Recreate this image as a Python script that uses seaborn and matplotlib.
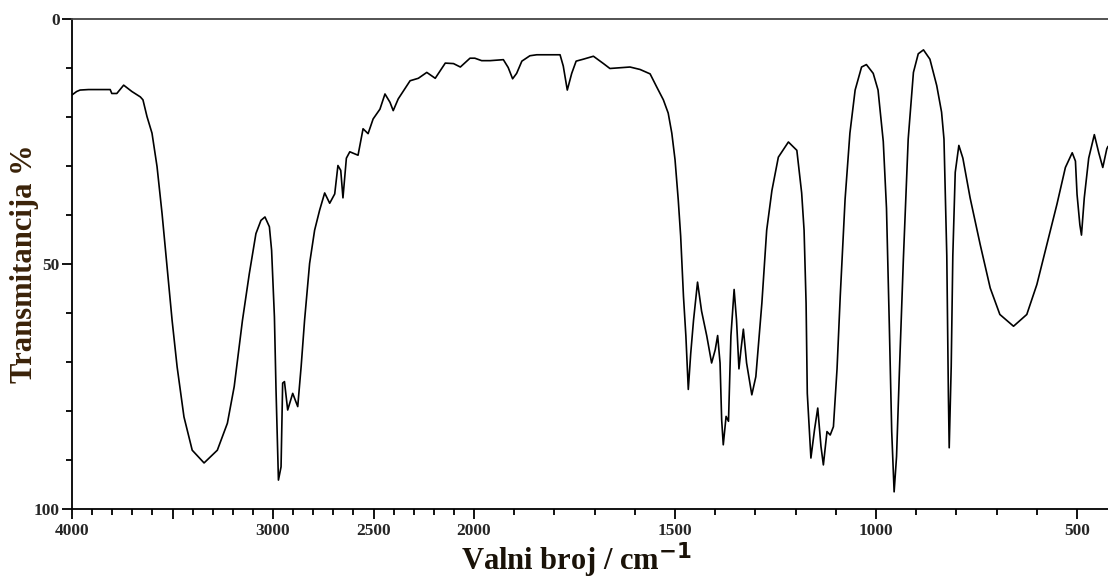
import numpy as np
import pandas as pd
import matplotlib
matplotlib.use("Agg")
import matplotlib.pyplot as plt
from matplotlib.ticker import FixedLocator, MultipleLocator
import seaborn as sns

# IR spectrum: wavenumber (cm^-1) and transmittance (%)
wavenumber = [4000, 3977, 3960, 3918, 3810, 3802, 3777, 3743, 3702, 3660, 3647, 3627,
              3602, 3577, 3552, 3527, 3502, 3477, 3443, 3402, 3343, 3277, 3227, 3193,
              3152, 3118, 3085, 3060, 3040, 3018, 3007, 2993, 2985, 2973, 2960, 2952,
              2943, 2927, 2902, 2877, 2860, 2843, 2818, 2793, 2768, 2743, 2718, 2693,
              2677, 2663, 2652, 2635, 2618, 2577, 2552, 2527, 2502, 2468, 2443, 2418,
              2402, 2377, 2318, 2277, 2235, 2193, 2143, 2102, 2068, 2020, 1998, 1981,
              1960, 1927, 1915, 1904, 1894, 1881, 1861, 1844, 1786, 1778, 1768, 1757,
              1746, 1728, 1703, 1678, 1662, 1612, 1587, 1562, 1546, 1529, 1517, 1508,
              1500, 1492, 1486, 1479, 1473, 1467, 1461, 1454, 1444, 1434, 1421, 1409,
              1400, 1394, 1388, 1384, 1380, 1373, 1367, 1361, 1353, 1347, 1341, 1336,
              1330, 1322, 1309, 1299, 1284, 1272, 1259, 1243, 1218, 1197, 1185, 1179,
              1174, 1171, 1162, 1153, 1145, 1137, 1131, 1122, 1114, 1106, 1097, 1089,
              1077, 1065, 1052, 1036, 1024, 1007, 995, 982, 974, 967, 961, 955,
              949, 942, 932, 920, 907, 895, 882, 866, 849, 837, 831, 824,
              820, 818, 813, 809, 803, 794, 784, 766, 741, 716, 692, 658,
              625, 600, 575, 550, 529, 512, 504, 500, 493, 489, 482, 471,
              457, 446, 436, 426, 423]
transmittance = [15.5, 14.8, 14.5, 14.4, 14.4, 15.2, 15.2, 13.5, 14.8, 15.9, 16.5, 19.9,
                 23.3, 30.1, 39.7, 50.6, 61.5, 71.0, 81.2, 88.0, 90.6, 88.0, 82.5, 75.0,
                 61.5, 52.0, 43.8, 41.1, 40.4, 42.4, 47.2, 60.8, 75.7, 94.1, 91.4, 74.3,
                 74.0, 79.8, 76.4, 79.1, 70.9, 61.5, 49.9, 43.1, 39.0, 35.5, 37.6, 35.7,
                 29.9, 30.9, 36.5, 28.4, 27.1, 27.8, 22.4, 23.4, 20.4, 18.4, 15.3, 17.0,
                 18.7, 16.3, 12.6, 12.1, 10.9, 12.1, 9.0, 9.1, 9.8, 8.0, 8.0, 8.5,
                 8.5, 8.3, 9.9, 12.2, 11.1, 8.6, 7.5, 7.3, 7.3, 9.6, 14.5, 11.1,
                 8.6, 8.2, 7.6, 9.1, 10.1, 9.8, 10.3, 11.2, 13.8, 16.5, 19.2, 23.3,
                 28.7, 36.9, 44.3, 56.6, 64.7, 75.6, 68.3, 61.5, 53.7, 59.6, 64.7, 70.2,
                 67.5, 64.6, 70.2, 81.8, 86.9, 81.1, 82.1, 64.7, 55.2, 61.5, 71.4, 67.5,
                 63.3, 70.2, 76.7, 73.0, 58.0, 43.1, 35.0, 28.2, 25.1, 26.8, 35.5, 43.1,
                 58.0, 76.4, 89.6, 83.8, 79.4, 87.2, 91.0, 84.2, 84.9, 83.2, 71.4, 56.5,
                 36.8, 23.3, 14.5, 9.8, 9.3, 11.1, 14.5, 25.0, 38.6, 62.4, 84.2, 96.5,
                 89.3, 72.2, 49.0, 24.5, 10.9, 7.1, 6.3, 8.2, 13.6, 19.0, 24.5, 48.3,
                 76.9, 87.5, 70.9, 48.3, 31.3, 25.8, 28.4, 36.5, 46.0, 54.9, 60.3, 62.7,
                 60.3, 54.2, 46.0, 37.8, 30.3, 27.3, 29.0, 35.8, 42.0, 44.1, 36.5, 28.4,
                 23.6, 27.3, 30.3, 26.5, 26.0]

x_ticks = [4000, 3500, 3000, 2500, 2000, 1500, 1000, 500]
x_ticklabels = ['4000', '', '3000', '2500', '2000', '1500', '1000', '500']
x_minor = [w for w in range(500, 4000, 100) if w % 500 != 0]
y_ticks = [0, 50, 100]

df = pd.DataFrame({'wavenumber': wavenumber, 'T': transmittance})

# scale halves above 2000 cm-1, like the spectrometer chart
def fwd(w):
    w = np.asarray(w, dtype=float)
    return np.where(w > 2000, 2000 + (w - 2000) * 0.5, w)

def inv(p):
    p = np.asarray(p, dtype=float)
    return np.where(p > 2000, 2000 + (p - 2000) * 2.0, p)

sns.set_style('ticks')
plt.rcParams['font.family'] = ['Liberation Serif', 'DejaVu Serif']
plt.rcParams['font.weight'] = 'bold'

fig = plt.figure(figsize=(11.08, 5.83), dpi=100)
ax = fig.add_axes([72 / 1108, 1 - 509 / 583, 1 - 72 / 1108, (509 - 19) / 583])

sns.lineplot(data=df, x='wavenumber', y='T', sort=False, estimator=None,
             color='black', linewidth=1.2, ax=ax)

ax.set_xscale('function', functions=(fwd, inv))
ax.set_xlim(4000, 423)
ax.set_ylim(100, 0)

ax.xaxis.set_major_locator(FixedLocator(x_ticks))
ax.set_xticklabels(x_ticklabels)
ax.xaxis.set_minor_locator(FixedLocator(x_minor))
ax.yaxis.set_major_locator(FixedLocator(y_ticks))
ax.yaxis.set_minor_locator(MultipleLocator(10))

ax.tick_params(axis='both', which='major', length=7, width=1.3, labelsize=12.5,
               direction='out', color='black')
ax.tick_params(axis='both', which='minor', length=4, width=1.3, direction='out',
               color='black')
ax.tick_params(axis='x', which='major', pad=3)
ax.tick_params(axis='y', which='major', pad=2)
for lbl in ax.get_xticklabels() + ax.get_yticklabels():
    lbl.set_fontweight('bold')

for side in ['left', 'bottom']:
    ax.spines[side].set_color('black')
    ax.spines[side].set_linewidth(1.3)
ax.spines['top'].set_color('#444444')
ax.spines['top'].set_linewidth(1.3)
ax.spines['right'].set_visible(False)

ax.set_xlabel('Valni broj / cm$^{\\mathbf{-1}}$', fontsize=22, fontweight='bold',
              color='#1a1208')
ax.set_ylabel('Transmitancija %', fontsize=22, fontweight='bold', color='#3a2208')
ax.xaxis.set_label_coords((576 - 72) / (1108 - 72), -(560 - 509) / 490)
ax.yaxis.set_label_coords(-(72 - 25) / 1036, 0.5)
ax.xaxis.label.set_verticalalignment('center')
ax.yaxis.label.set_verticalalignment('center')

fig.savefig('out.png', dpi=100)
